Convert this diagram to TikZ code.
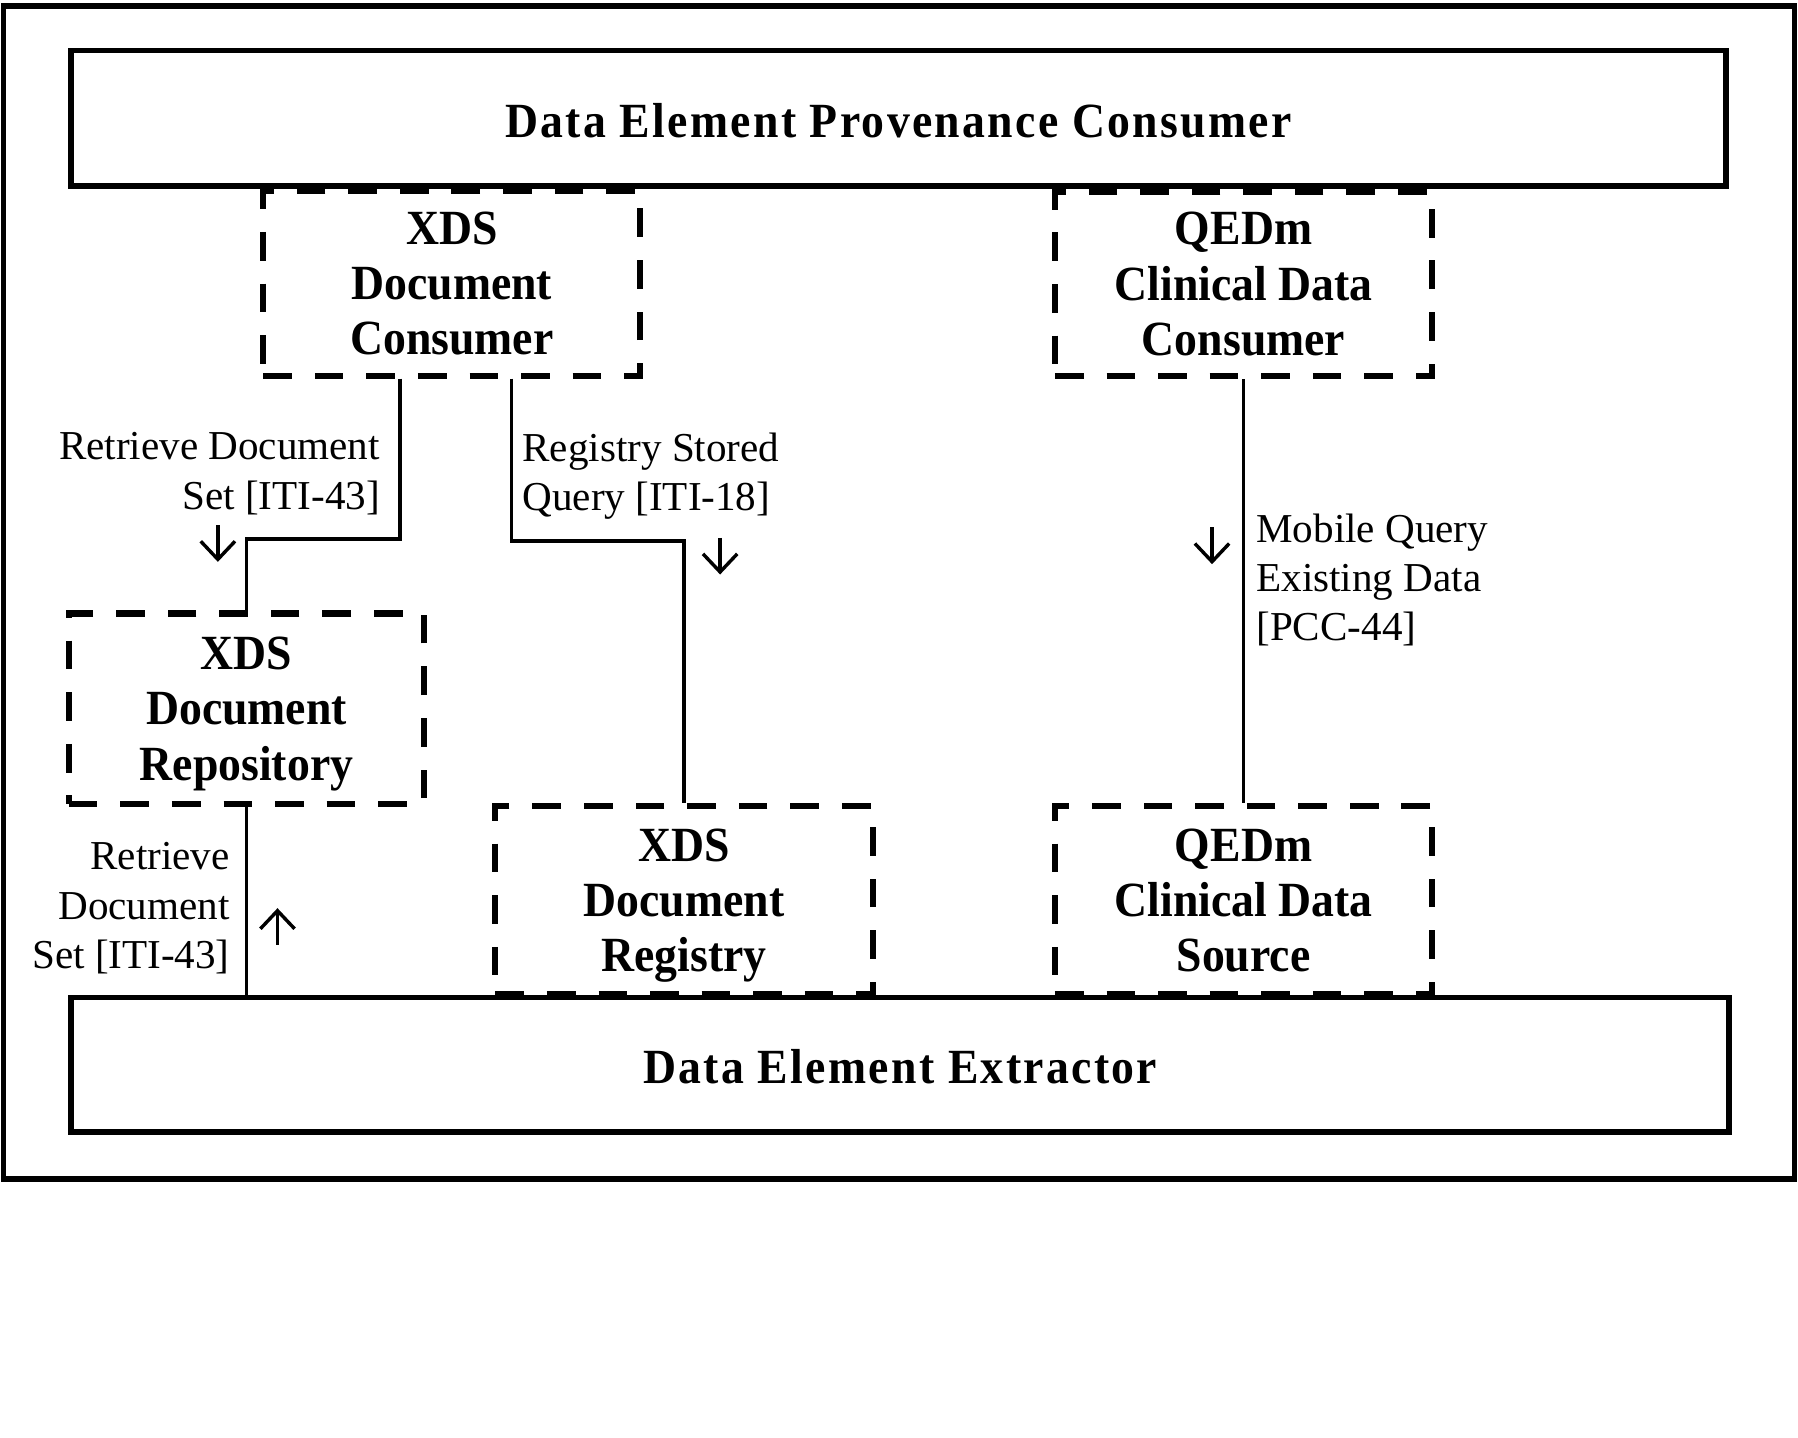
\documentclass[tikz,border=0pt]{standalone}
\usepackage{fontspec}
\setmainfont{Liberation Serif}[BoldFeatures={FakeStretch=0.93}]
\usetikzlibrary{arrows.meta}
\begin{document}
\begin{tikzpicture}[x=0.1mm,y=-0.1mm,
    bloque/.style={draw,line width=1.4pt,inner sep=0pt,text height=9.4pt,text depth=0pt,
      font=\fontsize{12.2}{13.7}\selectfont\bfseries\addfontfeature{LetterSpace=4.7}},
    actor/.style={draw,line width=1.5pt,dash pattern=on 7.1pt off 5.7pt,inner sep=0pt,text depth=0pt,
      minimum width=32.9mm,minimum height=16.1mm,align=center,font=\fontsize{12.2}{13.7}\selectfont\bfseries},
    rotulo/.style={inner sep=0pt,font=\fontsize{10.2}{12.2}\selectfont},
    sentido/.style={line width=0.85pt,-{Straight Barb[length=4.5pt,width=8.5pt]}},
    enlace/.style={line width=0.9pt}]
      \useasboundingbox (0,0) rectangle (1568,1254);

      % Marco exterior
      \draw[line width=1.4pt] (3,5) rectangle (1565,1028);

      % Bloques principales
      \node[bloque,minimum width=144.3mm,minimum height=11.8mm] (prov) at (783.5,103) {Data Element Provenance Consumer};
      \node[bloque,minimum width=144.6mm,minimum height=11.7mm] (extr) at (785,928.5) {Data Element Extractor};

      % Actores (cajas discontinuas)
      \node[actor] (xdscons) at (394,247) {XDS\\Document\\Consumer};
      \node[actor] (qedmcons) at (1084.5,247.5) {QEDm\\Clinical Data\\Consumer};
      \node[actor,minimum width=31mm,minimum height=16.6mm] (xdsrep) at (215,618) {XDS\\Document\\Repository};
      \node[actor,minimum height=16.4mm] (xdsreg) at (596.5,785) {XDS\\Document\\Registry};
      \node[actor,minimum height=16.4mm] (qedmsrc) at (1084.5,785) {QEDm\\Clinical Data\\Source};

      % Puntos de salida y quiebres
      \coordinate (p1) at ([xshift=-4.5mm]xdscons.south);
      \coordinate (p2) at ([xshift=5.2mm]xdscons.south);
      \coordinate (k1) at (0,470);
      \coordinate (k2) at (0,472);

      % Transacciones
      \draw[enlace] (p1) -- (p1 |- k1) -| (xdsrep.north);
      \draw[enlace] (p2) -- (p2 |- k2) -| (xdsreg.north);
      \draw[enlace] (qedmcons.south) -- (qedmsrc.north);
      \draw[enlace] (xdsrep.south) -- (xdsrep.south |- extr.north);

      % Rotulos
      \node[rotulo,anchor=east,align=right] (r1) at (332,413) {Retrieve Document\\{}Set [ITI-43]};
      \node[rotulo,anchor=west,align=left] (r2) at (455,415) {Registry Stored\\{}Query [ITI-18]};
      \node[rotulo,anchor=west,align=left] (r3) at (1095,506) {Mobile Query\\{}Existing Data\\{}[PCC-44]};
      \node[rotulo,anchor=east,align=right] (r4) at (201,792) {Retrieve\\{}Document\\{}Set [ITI-43]};

      % Flechas de sentido
      \coordinate (f1a) at (190,458);  \coordinate (f1b) at (190,490);
      \coordinate (f2a) at (628,469);  \coordinate (f2b) at (628,501);
      \coordinate (f3a) at (1057,460); \coordinate (f3b) at (1057,492);
      \coordinate (f4a) at (242,824);  \coordinate (f4b) at (242,792);
      \foreach \f in {1,2,3,4} {
        \draw[sentido] (f\f a) -- (f\f b);
      }
    \end{tikzpicture}
\end{document}
